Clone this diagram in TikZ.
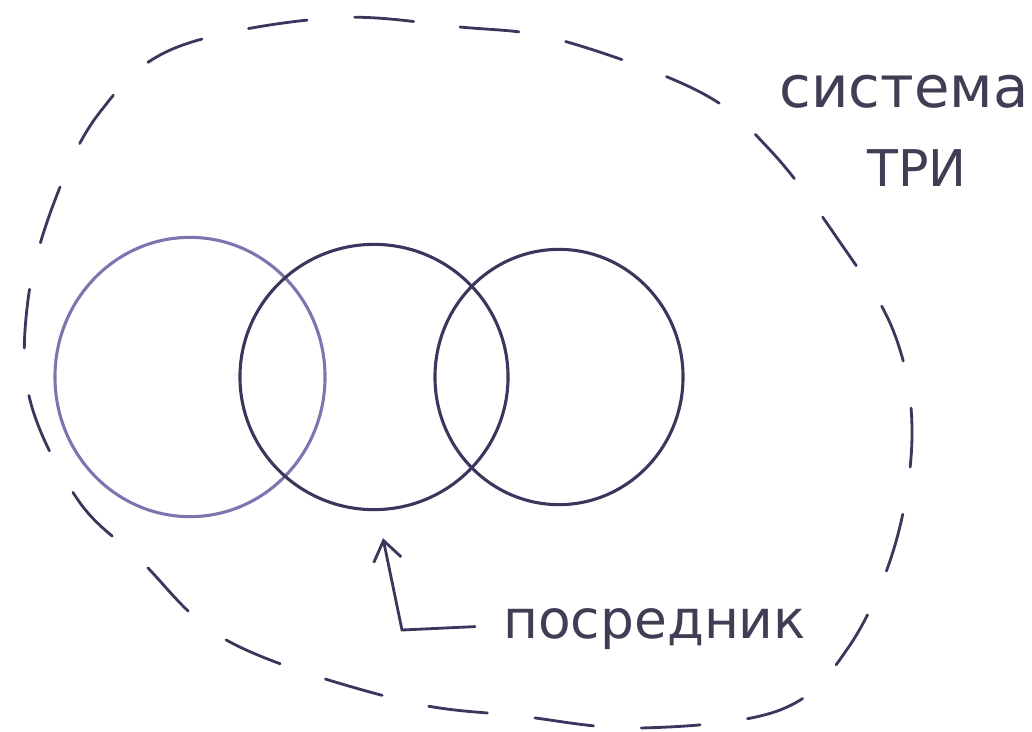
\documentclass[tikz,border=0pt]{standalone}
\usepackage{fontspec}
\setmainfont{DejaVu Sans}
\usetikzlibrary{positioning,arrows.meta,shapes.geometric,calc}
\definecolor{skInk}{RGB}{58,55,92}
\definecolor{skPale}{RGB}{124,118,176}
\definecolor{skText}{RGB}{64,62,84}
\tikzset{
  ring/.style={ellipse, draw=skInk, line width=2.2pt, inner sep=0pt},
  bound/.style={draw=skInk, line width=2pt, line cap=round,
    dash pattern=on 42pt off 34pt},
  hand/.style={text=skText, inner sep=0pt},
  pointer/.style={draw=skInk, line width=2pt, line cap=round,
    -{Straight Barb[length=14pt,width=20pt,line width=2pt]}}
}
\begin{document}
\begin{tikzpicture}[x=0.025cm, y=-0.025cm]
% рамка 1032 x 731 px, y вниз
\useasboundingbox (0,0) rectangle (1032,731);
% система: пунктирный контур
\draw[bound] plot[smooth cycle, tension=0.6] coordinates {
  (330,18) (460,27) (560,40) (700,92) (770,150) (835,235) (893,330)
  (912,430) (895,545) (848,648) (780,710) (640,728) (520,716) (400,700)
  (230,642) (140,560) (78,500) (30,400) (28,300) (55,200) (100,112) (175,48)};
% три круга
\node[ring, draw=skPale, minimum width=6.75cm, minimum height=6.98cm] (left) at (190,377) {};
\node[ring, minimum width=6.7cm, minimum height=6.63cm] (mid) at (374,377) {};
\node[ring, minimum width=6.2cm, minimum height=6.38cm] (right) at (559,377) {};
% подписи
\node[hand, font=\fontsize{41}{44}\selectfont] (systitle) at (904,92) {система};
\node[hand, font=\fontsize{36}{40}\selectfont] (systitlesub) at (917,168) {ТРИ};
\node[hand, anchor=base west, font=\fontsize{38}{42}\selectfont] (mediator) at (503,638) {посредник};
% стрелка к среднему кругу
\coordinate (bend) at (402,630);
\draw[pointer] ($(mediator.west)+(-28,-2)$) -- (bend) -- ($(mid.south)+(9,27)$);
\end{tikzpicture}
\end{document}
